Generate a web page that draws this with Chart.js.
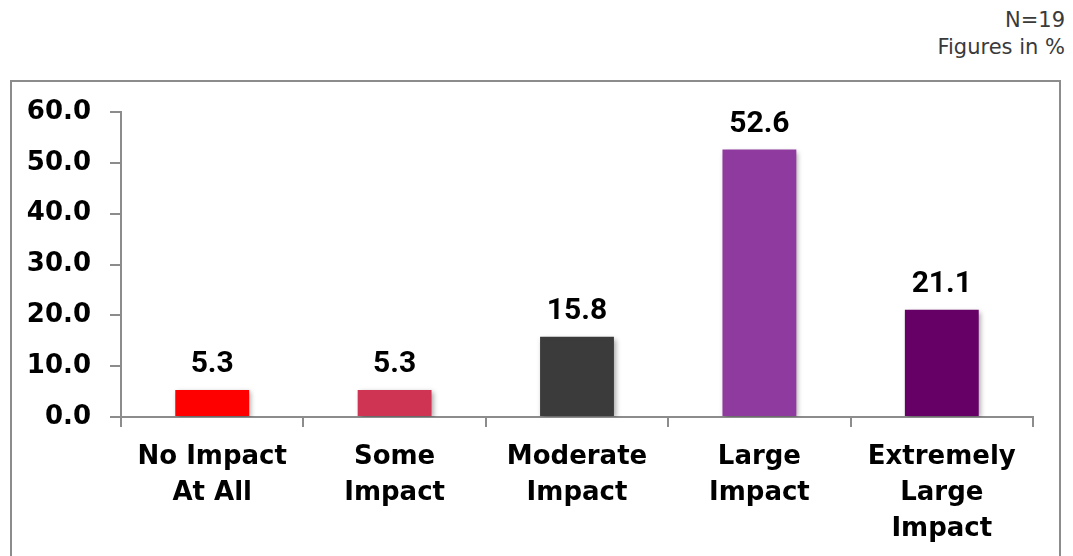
<!DOCTYPE html>
<html>
<head>
<meta charset="utf-8">
<script src="https://cdn.jsdelivr.net/npm/chart.js@4.4.1/dist/chart.umd.min.js"></script>
<style>
  html, body { margin: 0; padding: 0; background: #ffffff; }
  body { width: 1073px; height: 556px; position: relative; overflow: hidden; }
  .note { position: absolute; right: 8px; font-family: "DejaVu Sans", sans-serif; font-size: 21px; color: #3a3a3a; line-height: 1; }
  #frame { position: absolute; left: 10px; top: 80px; width: 1051px; height: 500px; border: 2px solid #8c8c8c; box-sizing: border-box; }
  #wrap { position: absolute; left: 0; top: 0; width: 1073px; height: 556px; }
</style>
</head>
<body>
<div class="note" style="top:10px;">N=19</div>
<div class="note" style="top:37px;">Figures in %</div>
<div id="frame"></div>
<div id="wrap"><canvas id="c" width="1073" height="556"></canvas></div>
<script>
// Impact ratings, share of respondents (%)
const categories = [
  ["No Impact", "At All"],
  ["Some", "Impact"],
  ["Moderate", "Impact"],
  ["Large", "Impact"],
  ["Extremely", "Large", "Impact"]
];
const shares = [5.3, 5.3, 15.8, 52.6, 21.1];
const barColors = ["#ff0000", "#cf3553", "#3b3b3b", "#8e3a9e", "#660066"];
const yTicks = [0, 10, 20, 30, 40, 50, 60];

const axisGrey = "#8c8c8c";

// soft drop shadow under each bar
const barShadow = {
  id: "barShadow",
  beforeDatasetDraw(chart) {
    const ctx = chart.ctx;
    ctx.save();
    ctx.shadowColor = "rgba(0,0,0,0.35)";
    ctx.shadowBlur = 5;
    ctx.shadowOffsetX = 2;
    ctx.shadowOffsetY = 2;
  },
  afterDatasetDraw(chart) {
    chart.ctx.restore();
  }
};

// value printed above each bar
const valueLabels = {
  id: "valueLabels",
  afterDatasetsDraw(chart) {
    const ctx = chart.ctx;
    const meta = chart.getDatasetMeta(0);
    ctx.save();
    ctx.font = "bold 30px Roboto";
    ctx.fillStyle = "#000000";
    ctx.textAlign = "center";
    ctx.textBaseline = "alphabetic";
    meta.data.forEach((bar, i) => {
      ctx.fillText(shares[i].toFixed(1), bar.x, bar.y - 18);
    });
    ctx.restore();
  }
};

new Chart(document.getElementById("c"), {
  type: "bar",
  data: {
    labels: categories,
    datasets: [{
      data: shares,
      backgroundColor: barColors,
      borderWidth: 0,
      barPercentage: 0.405,
      categoryPercentage: 1.0
    }]
  },
  options: {
    responsive: false,
    animation: false,
    events: [],
    layout: { padding: { left: 0, right: 40, top: 112, bottom: 0 } },
    plugins: { legend: { display: false }, tooltip: { enabled: false } },
    scales: {
      x: {
        grid: {
          offset: true,
          drawOnChartArea: false,
          drawTicks: true,
          tickLength: 10,
          color: axisGrey,
          lineWidth: 2
        },
        border: { display: true, color: axisGrey, width: 2 },
        ticks: {
          color: "#000000",
          padding: 12,
          maxRotation: 0,
          autoSkip: false,
          font: { family: "DejaVu Sans", size: 26, weight: "bold", lineHeight: 1.385 }
        },
        afterFit(scale) { scale.height = 139; }
      },
      y: {
        min: 0,
        max: 60,
        afterBuildTicks(scale) { scale.ticks = yTicks.map(v => ({ value: v })); },
        grid: {
          drawOnChartArea: false,
          drawTicks: true,
          tickLength: 11,
          color: axisGrey,
          lineWidth: 2
        },
        border: { display: true, color: axisGrey, width: 2 },
        ticks: {
          color: "#000000",
          padding: 19,
          callback: v => Number(v).toFixed(1),
          font: { family: "DejaVu Sans", size: 26, weight: "bold" }
        },
        afterFit(scale) { scale.width = 121; }
      }
    }
  },
  plugins: [barShadow, valueLabels]
});
</script>
</body>
</html>
